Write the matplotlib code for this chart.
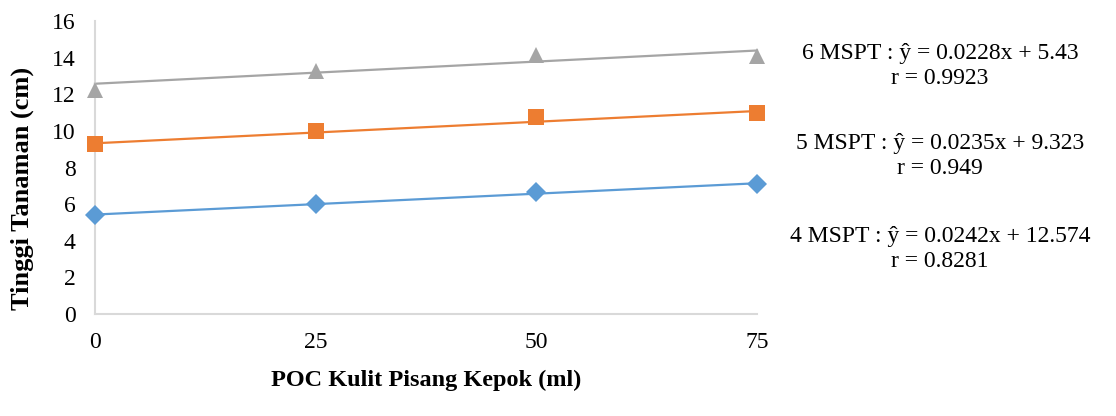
import matplotlib
matplotlib.use("Agg")
import matplotlib.pyplot as plt
import numpy as np

plt.rcParams['font.family'] = ['Liberation Serif', 'DejaVu Serif']

doses = [0, 25, 50, 75]
series_blue = [5.41, 6.00, 6.65, 7.10]
series_orange = [9.30, 10.00, 10.75, 10.98]
series_gray = [12.25, 13.28, 14.12, 14.08]

trend_blue = (0.0228, 5.43)
trend_orange = (0.0235, 9.323)
trend_gray = (0.0242, 12.574)

eq_labels = ["6 MSPT : ŷ = 0.0228x + 5.43\nr = 0.9923",
             "5 MSPT : ŷ = 0.0235x + 9.323\nr = 0.949",
             "4 MSPT : ŷ = 0.0242x + 12.574\nr = 0.8281"]

yticks = [0, 2, 4, 6, 8, 10, 12, 14, 16]

fig = plt.figure(figsize=(11.16, 4.16), dpi=100)
ax = fig.add_axes([95/1116, 1-314/416, (757-95)/1116, (314-21)/416])

xs = np.array(doses, dtype=float)
for vals, (m, b), color, marker, ms in [
        (series_blue, trend_blue, '#5b9bd5', 'D', 10.5),
        (series_orange, trend_orange, '#ed7d31', 's', 12),
        (series_gray, trend_gray, '#a5a5a5', '^', 12)]:
    ax.plot(xs, m*xs + b, color=color, lw=1.6, zorder=2, clip_on=False)
    ax.plot(xs, vals, linestyle='none', marker=marker, ms=ms, color=color,
            markeredgewidth=0, zorder=3, clip_on=False)

ax.set_xlim(0, 75)
ax.set_ylim(0, 16)
ax.set_xticks(doses)
ax.set_yticks(yticks)
ax.tick_params(length=0, labelsize=17)
ax.tick_params(axis='y', pad=14)
ax.tick_params(axis='x', pad=13)
for s in ['top', 'right']:
    ax.spines[s].set_visible(False)
for s in ['left', 'bottom']:
    ax.spines[s].set_color('#d9d9d9')
    ax.spines[s].set_linewidth(1.5)

ax.set_xlabel("POC Kulit Pisang Kepok (ml)", fontsize=17.5, fontweight='bold')
ax.set_ylabel("Tinggi Tanaman (cm)", fontsize=19, fontweight='bold')
ax.xaxis.label.set_va('center')
ax.yaxis.label.set_va('center')
ax.xaxis.set_label_coords(0.5, (314-380)/293)
ax.yaxis.set_label_coords((22-95)/662, (314-188)/293)

ypos = [1-66/416, 1-156/416, 1-249/416]
for lab, yp in zip(eq_labels, ypos):
    fig.text(940/1116, yp, lab, ha='center', va='center', fontsize=17,
             linespacing=1.3, multialignment='center')

fig.savefig("out.png", dpi=100)
